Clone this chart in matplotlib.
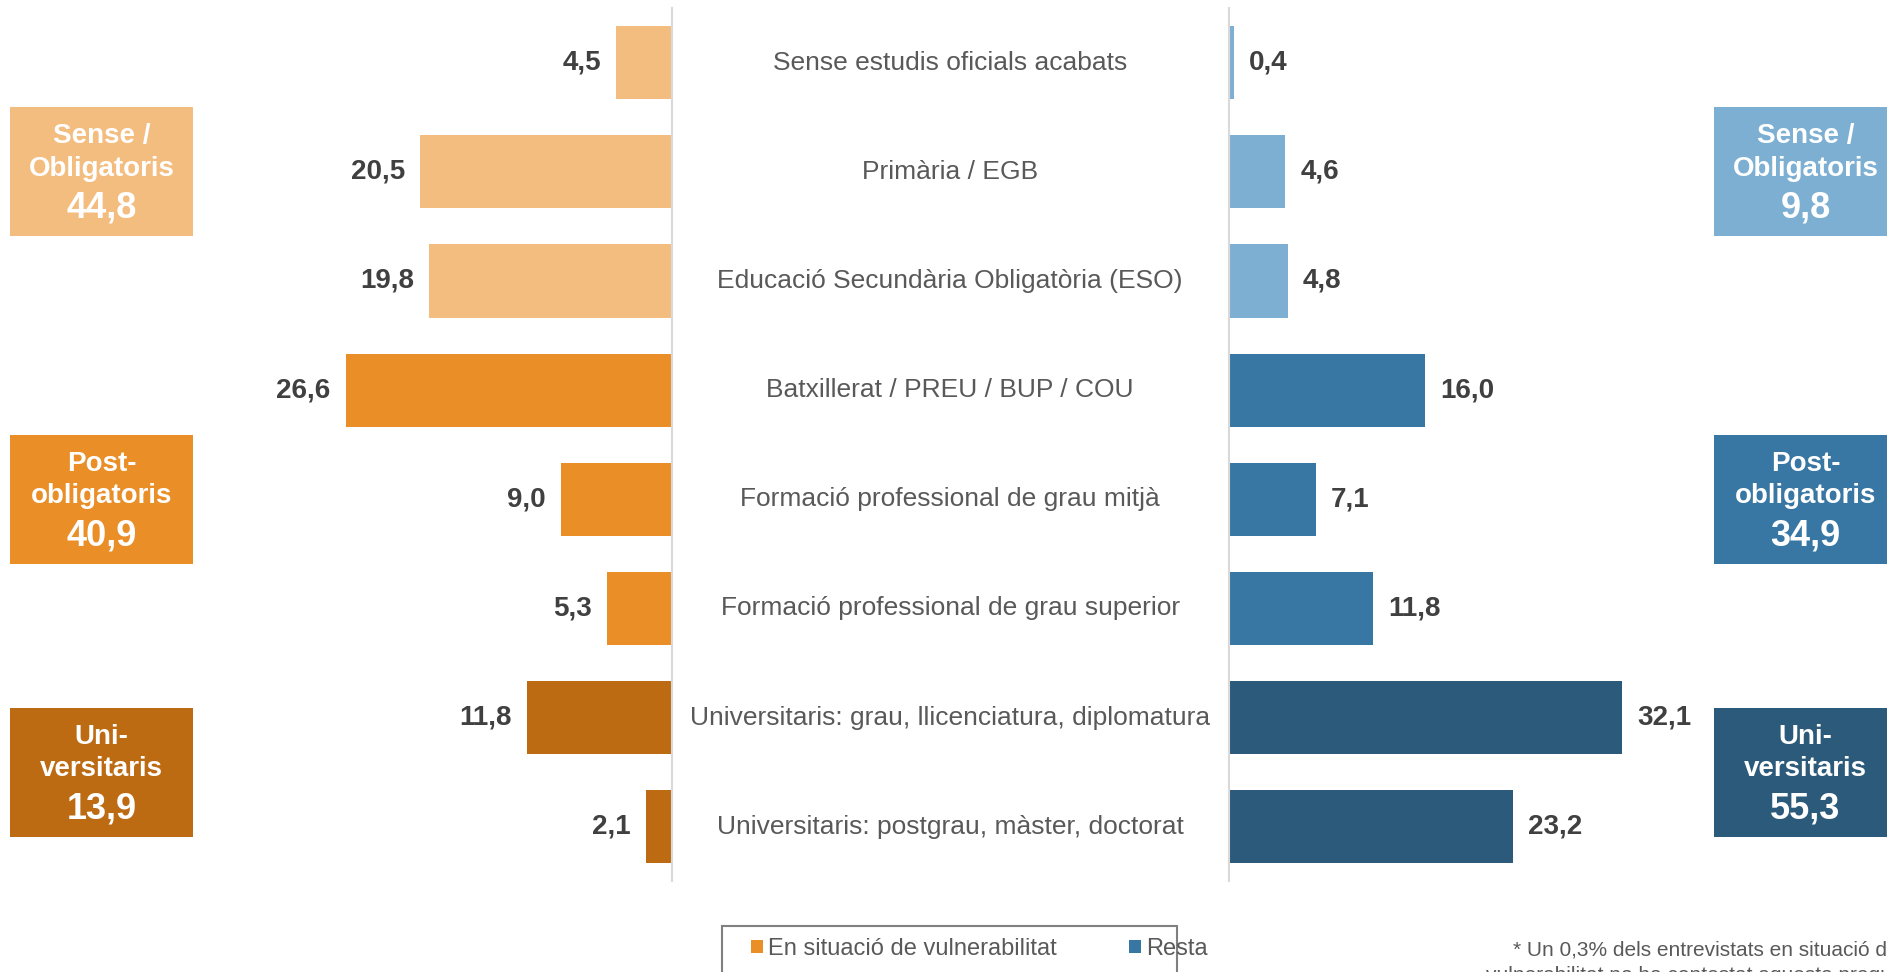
import matplotlib
matplotlib.use("Agg")
import matplotlib.pyplot as plt
from matplotlib.patches import Rectangle, Patch
from matplotlib.transforms import blended_transform_factory, offset_copy

plt.rcParams['font.family'] = ['Liberation Sans', 'DejaVu Sans']

# data (%)
categories = [
    "Sense estudis oficials acabats",
    "Primària / EGB",
    "Educació Secundària Obligatòria (ESO)",
    "Batxillerat / PREU / BUP / COU",
    "Formació professional de grau mitjà",
    "Formació professional de grau superior",
    "Universitaris: grau, llicenciatura, diplomatura",
    "Universitaris: postgrau, màster, doctorat",
]
vulnerable = [4.5, 20.5, 19.8, 26.6, 9.0, 5.3, 11.8, 2.1]
resta = [0.4, 4.6, 4.8, 16.0, 7.1, 11.8, 32.1, 23.2]
row_group = [0, 0, 0, 1, 1, 1, 2, 2]

group_names = ["Sense /\nObligatoris", "Post-\nobligatoris", "Uni-\nversitaris"]
group_vulnerable = [44.8, 40.9, 13.9]
group_resta = [9.8, 34.9, 55.3]

legend_labels = ["En situació de vulnerabilitat", "Resta"]
footnote = ["* Un 0,3% dels entrevistats en situació de",
            "vulnerabilitat no ha contestat aquesta pregunta."]

orange_shades = ["#F4BD80", "#EA8F28", "#BD6B13"]
blue_shades = ["#7DAFD3", "#3877A3", "#2C5A7A"]
value_color = "#404040"
label_color = "#595959"
axis_color = "#D9D9D9"

W, H = 1887, 972
fig = plt.figure(figsize=(W / 100, H / 100), dpi=100)

# layout in pixels
left_base, right_base = 671.6, 1228.8
top_px, bottom_px = 8, 881.4
px_per_unit = 12.25
ax_bottom = 1 - bottom_px / H
ax_height = (bottom_px - top_px) / H

ax_l = fig.add_axes([0, ax_bottom, left_base / W, ax_height])
ax_r = fig.add_axes([right_base / W, ax_bottom, (W - right_base) / W, ax_height])
ax_l.set_xlim(left_base / px_per_unit, 0)
ax_r.set_xlim(0, (W - right_base) / px_per_unit)

rows = list(range(len(categories)))
bar_h = 0.67

for ax in (ax_l, ax_r):
    ax.set_ylim(len(categories) - 0.5, -0.5)
    ax.set_xticks([])
    ax.set_yticks([])
    ax.patch.set_visible(False)
    for side in ax.spines:
        ax.spines[side].set_visible(False)

ax_l.spines['right'].set_visible(True)
ax_l.spines['right'].set_color(axis_color)
ax_l.spines['right'].set_linewidth(1.5)
ax_r.spines['left'].set_visible(True)
ax_r.spines['left'].set_color(axis_color)
ax_r.spines['left'].set_linewidth(1.5)

ax_l.barh(rows, vulnerable, height=bar_h,
          color=[orange_shades[g] for g in row_group], zorder=1)
ax_r.barh(rows, resta, height=bar_h,
          color=[blue_shades[g] for g in row_group], zorder=1)

for i in rows:
    val = f"{vulnerable[i]:.1f}".replace(".", ",")
    ax_l.annotate(val, (vulnerable[i], i), xytext=(-11, 0), textcoords="offset points",
                  ha="right", va="center", fontsize=20, fontweight="bold",
                  color=value_color)
    val = f"{resta[i]:.1f}".replace(".", ",")
    ax_r.annotate(val, (resta[i], i), xytext=(11, 0), textcoords="offset points",
                  ha="left", va="center", fontsize=20, fontweight="bold",
                  color=value_color)

# category names in the middle
mid_trans = blended_transform_factory(fig.transFigure, ax_l.transData)
mid_x = (left_base + right_base) / 2 / W
for i, name in enumerate(categories):
    ax_l.text(mid_x, i, name, transform=mid_trans, ha="center", va="center",
              fontsize=19, color=label_color, clip_on=False)

# summary boxes on both sides
box_w, box_h = 183 / W, 1.18
box_x = [10 / W, 1714 / W]
for g, name in enumerate(group_names):
    g_rows = [r for r in rows if row_group[r] == g]
    yc = sum(g_rows) / len(g_rows)
    for side, (ax, shades, totals) in enumerate([(ax_l, orange_shades, group_vulnerable),
                                                 (ax_r, blue_shades, group_resta)]):
        trans = blended_transform_factory(fig.transFigure, ax.transData)
        ax.add_patch(Rectangle((box_x[side], yc - box_h / 2), box_w, box_h,
                               transform=trans, facecolor=shades[g],
                               edgecolor="none", clip_on=False, zorder=3))
        cx = box_x[side] + box_w / 2
        line1, line2 = name.split("\n")
        ax.text(cx, yc, line1, ha="center", va="baseline", fontsize=20,
                fontweight="bold", color="white", zorder=4, clip_on=False,
                transform=offset_copy(trans, fig=fig, y=20.5, units="points"))
        ax.text(cx, yc, line2, ha="center", va="baseline", fontsize=20,
                fontweight="bold", color="white", zorder=4, clip_on=False,
                transform=offset_copy(trans, fig=fig, y=-3, units="points"))
        ax.text(cx, yc, f"{totals[g]:.1f}".replace(".", ","), ha="center",
                va="baseline", fontsize=26, fontweight="bold", color="white",
                zorder=4, clip_on=False,
                transform=offset_copy(trans, fig=fig, y=-33, units="points"))

# legend (frame drawn by hand, it runs off the bottom of the image)
fig.patches.append(Rectangle((722 / W, -0.05), (1177 - 722) / W, 1 - 926 / H + 0.05,
                             transform=fig.transFigure, fill=False,
                             edgecolor="#808080", linewidth=1.5))
handles = [Patch(facecolor=orange_shades[1]), Patch(facecolor=blue_shades[1])]
leg = fig.legend(handles, legend_labels, loc="center left",
                 bbox_to_anchor=(751 / W, 1 - 949 / H), ncol=2, frameon=False,
                 fontsize=17, handlelength=0.5, handleheight=0.5,
                 handletextpad=0.2, columnspacing=3.1, borderpad=0,
                 borderaxespad=0)
for t in leg.get_texts():
    t.set_color(label_color)

# footnote, cut by the right and bottom edges as in the original
fig.text(1706 / W, 1 - 950 / H, footnote[0], ha="center", va="center",
         fontsize=15, color=label_color)
fig.text(1706 / W, 1 - 975 / H, footnote[1], ha="center", va="center",
         fontsize=15, color=label_color)

fig.savefig("out.png", dpi=100)
